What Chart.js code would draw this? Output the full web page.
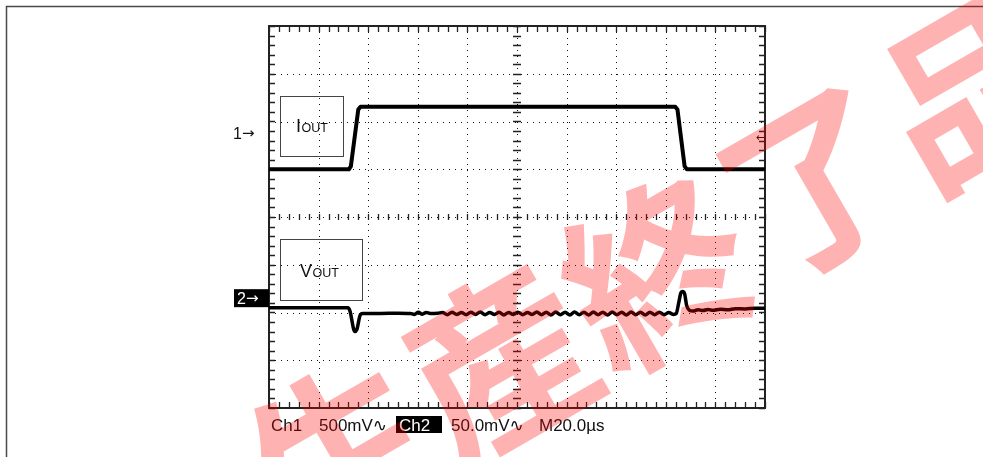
<!DOCTYPE html>
<html lang="ja">
<head>
  <meta charset="UTF-8">
  <title>Load transient — Iout / Vout</title>
  <script src="https://cdn.jsdelivr.net/npm/chart.js"></script>
  <style>
    * { box-sizing: border-box; margin: 0; padding: 0; }
    body { background: #FFFFFF; width: 983px; height: 457px; overflow: hidden; }
    canvas { display: block; }
  </style>
</head>
<body>
  <canvas id="scope" width="983" height="457"></canvas>

  <script>
    // time axis in µs (20 µs/div, 10 div), vertical axis in divisions (8 div)
    const timeRange = [0, 200];
    const divRange = [-4, 4];
    const timeGrid = [0, 20, 40, 60, 80, 100, 120, 140, 160, 180, 200];
    const divGrid = [-4, -3, -2, -1, 0, 1, 2, 3, 4];

    // Ch1: output current step
    const ioutTrace = [
      [0, 1.0], [32.2, 1.0], [33.0, 1.06], [36.0, 2.25], [36.9, 2.31],
      [163.8, 2.31], [164.7, 2.25], [167.6, 1.06], [168.5, 1.0], [200, 1.0]
    ];

    // Ch2: output voltage (AC coupled)
    const voutTrace = [
      [0, -1.90], [31.8, -1.90], [32.6, -1.96], [34.6, -2.40], [35.4, -2.36],
      [36.8, -2.05], [37.8, -2.02], [45, -2.02], [52, -2.015], [57, -2.02],
      [58.6, -2.04], [60.2, -1.995], [61.8, -2.035], [63.4, -2.0], [65, -2.02],
      [68, -2.015],
      [70, -2.0], [71.9, -2.045], [73.8, -1.995], [75.7, -2.04], [77.6, -2.0],
      [79.5, -2.045], [81.4, -1.995], [83.3, -2.04], [85.2, -1.99], [87.1, -2.045],
      [89, -2.0], [90.9, -2.04], [92.8, -1.995], [94.7, -2.05], [96.6, -2.0],
      [98.5, -2.04], [100.4, -1.995], [102.3, -2.045], [104.2, -2.0], [106.1, -2.04],
      [108, -1.99], [109.9, -2.045], [111.8, -1.995], [113.7, -2.05], [115.6, -1.99],
      [117.5, -2.045], [119.4, -1.995], [121.3, -2.05], [123.2, -1.99], [125.1, -2.045],
      [127, -1.995], [128.9, -2.05], [130.8, -1.99], [132.7, -2.045], [134.6, -1.995],
      [136.5, -2.05], [138.4, -1.99], [140.3, -2.045], [142.2, -1.995], [144.1, -2.05],
      [146, -1.99], [147.9, -2.045], [149.8, -1.995], [151.7, -2.05], [153.6, -1.995],
      [155.5, -2.045], [157.4, -1.995], [159.3, -2.045], [161.2, -2.0], [163.1, -2.04],
      [164.2, -2.02], [165.2, -1.80], [166.0, -1.60], [166.8, -1.56], [167.6, -1.61],
      [168.4, -1.85], [169.4, -1.95], [171, -1.97], [173, -1.94], [175, -1.96],
      [177, -1.935], [179, -1.955], [182, -1.93], [185, -1.945], [188, -1.92],
      [192, -1.925], [196, -1.91], [200, -1.91]
    ];

    // channel ground markers (div) and trigger level (div)
    const ch1Marker = 1.76;
    const ch2Marker = -1.70;
    const trigLevel = 1.68;

    const statusText = ['Ch1', '500mV∿', 'Ch2', '50.0mV∿', 'M20.0µs'];
    const watermark = '生産終了品';

    const toXY = arr => arr.map(p => ({ x: p[0], y: p[1] }));

    const scopeGrid = {
      id: 'scopeGrid',
      beforeDatasetsDraw(chart) {
        const { ctx, chartArea: a } = chart;
        const xs = chart.scales.x, ys = chart.scales.y;
        const xMid = xs.getPixelForValue(100), yMid = ys.getPixelForValue(0);
        ctx.save();

        // outer frame of the figure
        ctx.strokeStyle = '#4a4a4a';
        ctx.lineWidth = 1.5;
        ctx.beginPath();
        ctx.moveTo(6.5, 470); ctx.lineTo(6.5, 6.5); ctx.lineTo(990, 6.5);
        ctx.stroke();

        // dotted graticule
        ctx.strokeStyle = '#111';
        ctx.lineWidth = 1;
        ctx.setLineDash([1, 5]);
        timeGrid.slice(1, -1).forEach(t => {
          const x = Math.round(xs.getPixelForValue(t)) + 0.5;
          ctx.beginPath(); ctx.moveTo(x, a.top); ctx.lineTo(x, a.bottom); ctx.stroke();
        });
        divGrid.slice(1, -1).forEach(d => {
          const y = Math.round(ys.getPixelForValue(d)) + 0.5;
          ctx.beginPath(); ctx.moveTo(a.left, y); ctx.lineTo(a.right, y); ctx.stroke();
        });
        ctx.setLineDash([]);

        // minor ticks: 5 per division on border and centre axes
        ctx.strokeStyle = '#222';
        ctx.lineWidth = 1.3;
        ctx.beginPath();
        for (let t = timeRange[0]; t <= timeRange[1]; t += 4) {
          const x = Math.round(xs.getPixelForValue(t)) + 0.5;
          ctx.moveTo(x, a.top); ctx.lineTo(x, a.top + 6);
          ctx.moveTo(x, a.bottom); ctx.lineTo(x, a.bottom - 6);
          ctx.moveTo(x, yMid - 3); ctx.lineTo(x, yMid + 3);
        }
        for (let d = divRange[0]; d <= divRange[1] + 1e-6; d += 0.2) {
          const y = Math.round(ys.getPixelForValue(d)) + 0.5;
          ctx.moveTo(a.left, y); ctx.lineTo(a.left + 6, y);
          ctx.moveTo(a.right, y); ctx.lineTo(a.right - 6, y);
          ctx.moveTo(xMid - 4, y); ctx.lineTo(xMid + 4, y);
        }
        ctx.stroke();

        // graticule border
        ctx.strokeStyle = '#222';
        ctx.lineWidth = 2;
        ctx.strokeRect(a.left, a.top, a.right - a.left, a.bottom - a.top);
        ctx.restore();
      },
      afterDraw(chart) {
        const { ctx, chartArea: a } = chart;
        const ys = chart.scales.y;
        ctx.save();
        ctx.textBaseline = 'alphabetic';

        // trace name boxes
        ctx.strokeStyle = '#444';
        ctx.lineWidth = 1;
        ctx.strokeRect(280.5, 96.5, 63, 60);
        ctx.strokeRect(280.5, 239.5, 82, 61);
        ctx.fillStyle = '#111';
        ctx.font = '18px "Liberation Sans", Arial, sans-serif';
        ctx.fillText('I', 296, 132);
        ctx.fillText('V', 300, 277);
        ctx.font = '12.5px "Liberation Sans", Arial, sans-serif';
        ctx.fillText('OUT', 301.5, 132);
        ctx.fillText('OUT', 312.5, 277);

        // channel markers
        const y1 = ys.getPixelForValue(ch1Marker);
        const y2 = ys.getPixelForValue(ch2Marker);
        ctx.fillStyle = '#000';
        ctx.fillRect(234, y2 - 9, 35, 18);
        const marker = (num, x, y, color) => {
          ctx.fillStyle = color;
          ctx.font = '16px "Liberation Sans", Arial, sans-serif';
          ctx.fillText(num, x, y);
          ctx.font = '15px "DejaVu Sans", sans-serif';
          ctx.fillText('→', x + 9, y - 1);
        };
        marker('1', 233, y1 + 6, '#111');
        marker('2', 237, y2 + 6, '#fff');

        // trigger level arrow
        ctx.fillStyle = '#111';
        ctx.font = '11px "DejaVu Sans", sans-serif';
        ctx.textAlign = 'right';
        ctx.fillText('←', a.right, ys.getPixelForValue(trigLevel) + 4);
        ctx.textAlign = 'left';

        // status line
        ctx.font = '17px "Liberation Sans", Arial, "DejaVu Sans", sans-serif';
        const sx = [271, 319, 399, 451, 539];
        statusText.forEach((s, i) => {
          if (i === 2) {
            ctx.fillStyle = '#000';
            ctx.fillRect(396, 416, 46, 17);
            ctx.fillStyle = '#fff';
          } else {
            ctx.fillStyle = '#111';
          }
          ctx.fillText(s, sx[i], 431);
        });

        // watermark
        ctx.translate(657, 272);
        ctx.rotate(-30 * Math.PI / 180);
        ctx.fillStyle = 'rgba(255,0,0,0.3)';
        ctx.font = 'bold 182px "Noto Sans CJK JP", sans-serif';
        ctx.textAlign = 'center';
        ctx.textBaseline = 'middle';
        ctx.fillText(watermark, 0, 0);
        ctx.restore();
      }
    };

    new Chart(document.getElementById('scope'), {
      type: 'line',
      data: {
        datasets: [
          {
            label: 'Iout',
            data: toXY(ioutTrace),
            borderColor: '#000',
            borderWidth: 4,
            borderJoinStyle: 'round',
            borderCapStyle: 'round',
            pointRadius: 0,
            tension: 0
          },
          {
            label: 'Vout',
            data: toXY(voutTrace),
            borderColor: '#000',
            borderWidth: 3.5,
            borderJoinStyle: 'round',
            borderCapStyle: 'round',
            pointRadius: 0,
            cubicInterpolationMode: 'monotone'
          }
        ]
      },
      options: {
        responsive: false,
        animation: false,
        layout: { padding: { left: 269, top: 26, right: 218, bottom: 49 } },
        plugins: { legend: { display: false }, tooltip: { enabled: false } },
        scales: {
          x: { type: 'linear', min: timeRange[0], max: timeRange[1], display: false },
          y: { type: 'linear', min: divRange[0], max: divRange[1], display: false }
        }
      },
      plugins: [scopeGrid]
    });
  </script>
</body>
</html>
